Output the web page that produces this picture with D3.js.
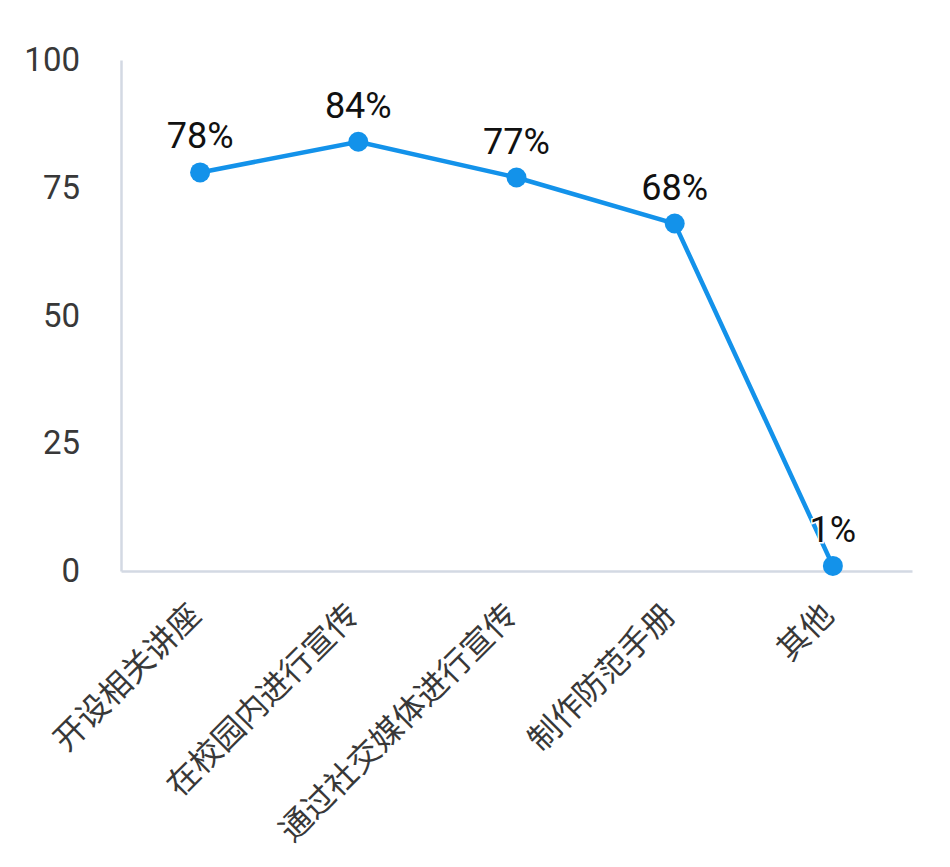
<!DOCTYPE html>
<html><head><meta charset="utf-8">
<script src="https://cdn.jsdelivr.net/npm/d3@7"></script>
<style>body{margin:0;background:#fff;}svg{display:block;font-family:Roboto,"Noto Sans CJK SC",sans-serif;}</style>
</head><body><svg id="c" width="950" height="867"></svg>
<script>
const categories = ["开设相关讲座","在校园内进行宣传","通过社交媒体进行宣传","制作防范手册","其他"];
const values = [78, 84, 77, 68, 1];
const yTicks = [0, 25, 50, 75, 100];

(function(){
const svg = d3.select("#c");
const mLeft = 121, mRight = 912, mTop = 60, mBottom = 571;
const x = d3.scalePoint().domain(categories).range([mLeft, mRight]).padding(0.5);
const y = d3.scaleLinear().domain([0, 100]).range([mBottom, mTop]);
const axisColor = "#d3d9e3";

const yAxis = svg.append("g").attr("transform", `translate(${mLeft},0)`)
  .call(d3.axisLeft(y).tickValues(yTicks).tickSize(0).tickPadding(41));
yAxis.select(".domain").attr("stroke", axisColor).attr("stroke-width", 2.5);
yAxis.selectAll("text").attr("font-size", 33).attr("fill", "#383838").attr("font-family", "Roboto, sans-serif");

const xAxis = svg.append("g").attr("transform", `translate(0,${mBottom})`)
  .call(d3.axisBottom(x).tickSize(0).tickPadding(0));
xAxis.select(".domain").attr("stroke", axisColor).attr("stroke-width", 2.5);
xAxis.selectAll("text")
  .attr("font-size", 32).attr("fill", "#383838").attr("font-family", '"Noto Sans CJK SC", sans-serif')
  .attr("text-anchor", "end").attr("dy", null).attr("y", 0)
  .attr("transform", "translate(-4,40) rotate(-45)")
  .attr("dominant-baseline", "middle");

const color = "#1392ea";
svg.append("path").datum(values)
  .attr("fill", "none").attr("stroke", color).attr("stroke-width", 4.5)
  .attr("d", d3.line().x((d,i)=>x(categories[i])).y(d=>y(d)));

svg.selectAll("circle.pt").data(values).join("circle").attr("class","pt")
  .attr("cx",(d,i)=>x(categories[i])).attr("cy",d=>y(d)).attr("r",10).attr("fill",color);

svg.selectAll("text.lbl").data(values).join("text").attr("class","lbl")
  .attr("x",(d,i)=>x(categories[i])).attr("y",d=>y(d)-24)
  .attr("text-anchor","middle").attr("font-size",36).attr("fill","#111")
  .attr("stroke","#fff").attr("stroke-width",3).attr("paint-order","stroke")
  .attr("font-family","Roboto, sans-serif")
  .text(d=>d+"%");
})();
</script></body></html>
